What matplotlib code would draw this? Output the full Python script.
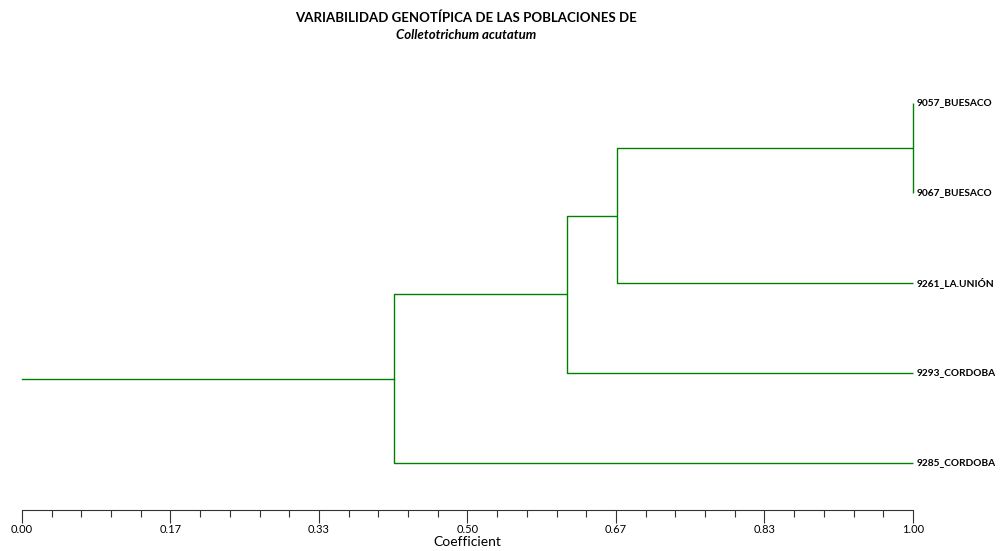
import matplotlib
matplotlib.use("Agg")
import matplotlib.pyplot as plt
from matplotlib.ticker import MultipleLocator, FixedLocator

plt.rcParams['font.family'] = ['Lato', 'DejaVu Sans']

# leaves, top to bottom
leaves = ["9057_BUESACO", "9067_BUESACO", "9261_LA.UNIÓN", "9293_CORDOBA", "9285_CORDOBA"]
# merges: (left member, right member, coefficient); members >= 5 are earlier clusters
merges = [(0, 1, 1.00), (5, 2, 0.668), (6, 3, 0.612), (7, 4, 0.418)]
tick_vals = [0, 1/6, 2/6, 3/6, 4/6, 5/6, 1]
tick_labels = ["0.00", "0.17", "0.33", "0.50", "0.67", "0.83", "1.00"]

green = "#008000"
fig = plt.figure(figsize=(10.04, 5.51), dpi=100)
ax = fig.add_axes([22/1004, 1 - 510/551, (913-22)/1004, 450/551])

# node positions: leaves first
ypos = {i: float(i) for i in range(len(leaves))}
xpos = {i: 1.0 for i in range(len(leaves))}
for k, (a, b, h) in enumerate(merges):
    node = len(leaves) + k
    ax.plot([xpos[a], h, h, xpos[b]], [ypos[a], ypos[a], ypos[b], ypos[b]],
            color=green, lw=1.0, solid_capstyle='butt', clip_on=False)
    ypos[node] = (ypos[a] + ypos[b]) / 2
    xpos[node] = h
root = len(leaves) + len(merges) - 1
ax.plot([0, xpos[root]], [ypos[root], ypos[root]], color=green, lw=1.0, clip_on=False)

for i, name in enumerate(leaves):
    ax.annotate(name, (1.0, i), xytext=(2.5, 0), textcoords='offset points',
                ha='left', va='center', fontsize=7.3, fontweight='bold')

ax.set_xlim(0, 1)
ax.set_ylim(4.522, -0.478)
for s in ['top', 'right', 'left']:
    ax.spines[s].set_visible(False)
ax.spines['bottom'].set_color('#333333')
ax.set_yticks([])
ax.xaxis.set_major_locator(FixedLocator(tick_vals))
ax.set_xticklabels(tick_labels, fontsize=8)
ax.xaxis.set_minor_locator(MultipleLocator(1/30))
ax.tick_params(axis='x', which='major', length=9, width=0.8, color='#333333', pad=1)
ax.tick_params(axis='x', which='minor', length=5, width=0.8, color='#333333')
ax.set_xlabel("Coefficient", fontsize=10, labelpad=1)

fig.text(466/1004, 1 - 18/551, "VARIABILIDAD GENOTÍPICA DE LAS POBLACIONES DE",
         ha='center', va='center', fontsize=9.5, fontweight='bold')
fig.text(466/1004, 1 - 35/551, "Colletotrichum acutatum",
         ha='center', va='center', fontsize=9.5, fontweight='bold', style='italic')

fig.savefig("out.png", dpi=100)
